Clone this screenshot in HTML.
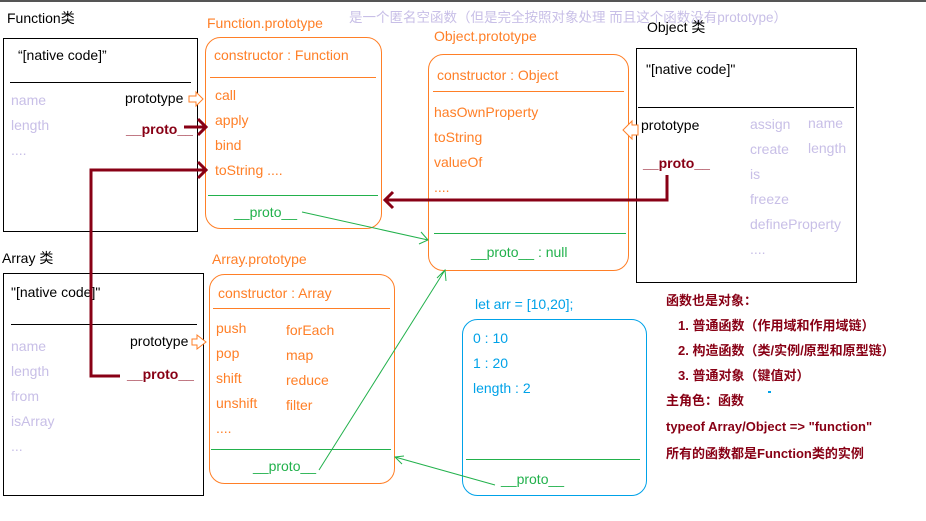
<!DOCTYPE html>
<html><head><meta charset="utf-8"><style>
html,body{margin:0;padding:0;background:#fff;width:926px;height:521px;overflow:hidden}
svg{display:block}
text{font-family:"Liberation Sans","Noto Sans CJK SC",sans-serif;font-size:14px}
.o{fill:#ff7f27}.g{fill:#22b14c}.p{fill:#c8bfe7}.k{fill:#000}.b{fill:#00a2e8}
.r{fill:#880015;font-weight:bold;font-size:13px}
.t{font-size:13.5px}
</style></head><body>
<svg width="926" height="521" viewBox="0 0 926 521" xmlns="http://www.w3.org/2000/svg">
<rect x="0" y="0" width="926" height="2" fill="#555"/>
<text x="349" y="22" class="p t">是一个匿名空函数（但是完全按照对象处理  而且这个函数没有prototype）</text>

<!-- Function class -->
<text x="7" y="23" class="k">Function类</text>
<rect x="3.5" y="38.5" width="194" height="193" fill="none" stroke="#000"/>
<text x="18" y="60" class="k">“[native code]”</text>
<line x1="10" y1="82.5" x2="191" y2="82.5" stroke="#000"/>
<text x="11" y="105" class="p">name</text>
<text x="11" y="130" class="p">length</text>
<text x="11" y="155" class="p">....</text>
<text x="125" y="103" class="k">prototype</text>
<path d="M189 96h7v-4l7 7-7 7v-4h-7z" fill="#fff" stroke="#ff7f27"/>
<text x="126" y="134" class="r" style="font-size:14px">__proto__</text>

<!-- Function.prototype -->
<text x="207" y="28" class="o">Function.prototype</text>
<rect x="205.5" y="37.5" width="176" height="191" rx="15" fill="none" stroke="#ff7f27"/>
<text x="214" y="60" class="o">constructor : Function</text>
<line x1="210" y1="77.5" x2="376" y2="77.5" stroke="#ff7f27"/>
<text x="215" y="100" class="o">call</text>
<text x="215" y="125" class="o">apply</text>
<text x="215" y="150" class="o">bind</text>
<text x="215" y="175" class="o">toString  ....</text>
<line x1="208" y1="195.5" x2="378" y2="195.5" stroke="#22b14c"/>
<text x="234" y="217" class="g">__proto__</text>

<!-- Object.prototype -->
<text x="434" y="41" class="o">Object.prototype</text>
<rect x="428.5" y="54.5" width="200" height="216" rx="15" fill="none" stroke="#ff7f27"/>
<text x="437" y="80" class="o">constructor : Object</text>
<line x1="433" y1="91.5" x2="624" y2="91.5" stroke="#ff7f27"/>
<text x="434" y="117" class="o">hasOwnProperty</text>
<text x="434" y="142" class="o">toString</text>
<text x="434" y="167" class="o">valueOf</text>
<text x="434" y="192" class="o">....</text>
<line x1="434" y1="233.5" x2="626" y2="233.5" stroke="#22b14c"/>
<text x="471" y="257" class="g">__proto__ : null</text>

<!-- Object class -->
<text x="647" y="32" class="k">Object  类</text>
<rect x="636.5" y="48.5" width="220" height="234" fill="none" stroke="#000"/>
<text x="646" y="74" class="k">"[native code]"</text>
<line x1="638" y1="107.5" x2="854" y2="107.5" stroke="#000"/>
<text x="641" y="130" class="k">prototype</text>
<path d="M638 125h-6v-4l-9 9 9 9v-4h6z" fill="#fff" stroke="#ff7f27"/>
<text x="643" y="168" class="r" style="font-size:14px">__proto__</text>
<text x="750" y="129" class="p">assign</text>
<text x="750" y="154" class="p">create</text>
<text x="750" y="179" class="p">is</text>
<text x="750" y="204" class="p">freeze</text>
<text x="750" y="229" class="p">defineProperty</text>
<text x="750" y="254" class="p">....</text>
<text x="808" y="128" class="p">name</text>
<text x="808" y="153" class="p">length</text>

<!-- Array class -->
<text x="2" y="263" class="k">Array 类</text>
<rect x="3.5" y="273.5" width="200" height="222" fill="none" stroke="#000"/>
<text x="11" y="297" class="k">"[native code]"</text>
<line x1="11" y1="324.5" x2="197" y2="324.5" stroke="#000"/>
<text x="11" y="351" class="p">name</text>
<text x="11" y="376" class="p">length</text>
<text x="11" y="401" class="p">from</text>
<text x="11" y="426" class="p">isArray</text>
<text x="11" y="451" class="p">...</text>
<text x="130" y="346" class="k">prototype</text>
<path d="M192 339h5v-4l9 7-9 7v-4h-5z" fill="#fff" stroke="#ff7f27"/>
<text x="127" y="379" class="r" style="font-size:14px">__proto__</text>

<!-- Array.prototype -->
<text x="212" y="264" class="o">Array.prototype</text>
<rect x="209.5" y="274.5" width="185" height="209" rx="15" fill="none" stroke="#ff7f27"/>
<text x="218" y="298" class="o">constructor : Array</text>
<line x1="213" y1="308.5" x2="390" y2="308.5" stroke="#ff7f27"/>
<text x="216" y="333" class="o">push</text>
<text x="216" y="358" class="o">pop</text>
<text x="216" y="383" class="o">shift</text>
<text x="216" y="408" class="o">unshift</text>
<text x="216" y="433" class="o">....</text>
<text x="286" y="335" class="o">forEach</text>
<text x="286" y="360" class="o">map</text>
<text x="286" y="385" class="o">reduce</text>
<text x="286" y="410" class="o">filter</text>
<line x1="211" y1="449.5" x2="391" y2="449.5" stroke="#22b14c"/>
<text x="253" y="471" class="g">__proto__</text>

<!-- arr -->
<text x="475" y="309" class="b">let arr = [10,20];</text>
<rect x="462.5" y="319.5" width="184" height="176" rx="15" fill="none" stroke="#00a2e8"/>
<text x="473" y="343" class="b">0 : 10</text>
<text x="473" y="368" class="b">1 : 20</text>
<text x="473" y="393" class="b">length : 2</text>
<line x1="466" y1="459.5" x2="640" y2="459.5" stroke="#22b14c"/>
<text x="501" y="484" class="g">__proto__</text>

<!-- right notes -->
<text x="666" y="305" class="r">函数也是对象：</text>
<text x="678" y="330" class="r">1. 普通函数（作用域和作用域链）</text>
<text x="678" y="355" class="r">2. 构造函数（类/实例/原型和原型链）</text>
<text x="678" y="380" class="r">3. 普通对象（键值对）</text>
<rect x="768" y="391" width="3" height="2" fill="#00a2e8"/>
<text x="666" y="405" class="r">主角色：函数</text>
<text x="666" y="431" class="r">typeof  Array/Object =&gt; "function"</text>
<text x="666" y="458" class="r">所有的函数都是Function类的实例</text>

<!-- dark red connectors -->
<g stroke="#880015" stroke-width="3" fill="none">
<path d="M184 127H206M198 119l8 8-8 8"/>
<path d="M120 376H91V170H206M198 162l8 8-8 8"/>
<path d="M667 175V200H385M393 192l-8 8 8 8"/>
</g>
<!-- green connectors -->
<g stroke="#22b14c" stroke-width="1" fill="none">
<path d="M302 212L428 240M421 232l7 8-9 4"/>
<path d="M319 470L445 270M437 278l8-8 1 11"/>
<path d="M495 485L395 457M404 456l-9 1 7 7"/>
</g>
</svg>
</body></html>
